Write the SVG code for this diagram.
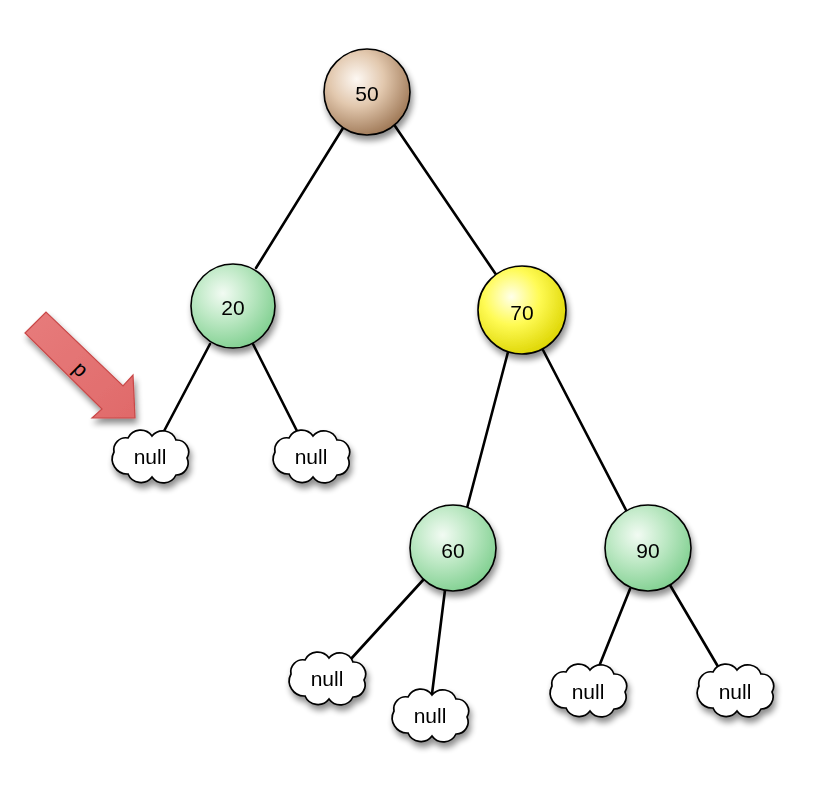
<svg xmlns="http://www.w3.org/2000/svg" xmlns:xlink="http://www.w3.org/1999/xlink" width="816" height="789" viewBox="0 0 816 789">
<style>
.edge{stroke:#000;stroke-width:2.6;fill:none;stroke-linecap:round}
.node{stroke:#000;stroke-width:1.6}
.lbl{font-family:"Liberation Sans",Arial,sans-serif;font-size:21px;fill:#000;text-anchor:middle;dominant-baseline:central}
.cloud{fill:#fff;stroke:#000;stroke-width:1.7}
</style>
<defs>
<radialGradient id="gBrown" cx="0.38" cy="0.35" r="0.7">
<stop offset="0" stop-color="#fdf8f3"/>
<stop offset="0.45" stop-color="#e2c8ae"/>
<stop offset="1" stop-color="#9c7553"/>
</radialGradient>
<radialGradient id="gGreen" cx="0.38" cy="0.35" r="0.7">
<stop offset="0" stop-color="#f2fbf3"/>
<stop offset="0.45" stop-color="#bfe9c6"/>
<stop offset="1" stop-color="#7fcf8f"/>
</radialGradient>
<radialGradient id="gYellow" cx="0.38" cy="0.35" r="0.7">
<stop offset="0" stop-color="#ffffea"/>
<stop offset="0.45" stop-color="#fffb55"/>
<stop offset="1" stop-color="#dcd400"/>
</radialGradient>
<linearGradient id="gArrow" x1="0" y1="0" x2="1" y2="1">
<stop offset="0" stop-color="#e77c7c"/>
<stop offset="1" stop-color="#e06a6a"/>
</linearGradient>
<filter id="shadow" x="-30%" y="-30%" width="170%" height="170%">
<feGaussianBlur in="SourceAlpha" stdDeviation="3"/>
<feOffset dx="2" dy="5" result="b"/>
<feComponentTransfer><feFuncA type="linear" slope="0.45"/></feComponentTransfer>
<feMerge><feMergeNode/><feMergeNode in="SourceGraphic"/></feMerge>
</filter>
<path id="cloudShape" class="cloud" d="M-36,-4 A12,12 0 0 1 -22,-18 A14,14 0 0 1 2,-20 A14,14 0 0 1 26,-16 A12,12 0 0 1 37,2 A12,12 0 0 1 26,19 A14,14 0 0 1 2,21 A14,14 0 0 1 -22,18 A15,15 0 0 1 -36,-4 Z"/>
</defs>
<rect width="816" height="789" fill="#fff"/>
<g id="connectors">
<line class="edge" x1="343" y1="128" x2="256" y2="268"/>
<line class="edge" x1="395" y1="126" x2="497" y2="276"/>
<line class="edge" x1="210" y1="344" x2="163" y2="433"/>
<line class="edge" x1="253" y1="344" x2="298" y2="433"/>
<line class="edge" x1="508" y1="352" x2="467" y2="508"/>
<line class="edge" x1="543" y1="350" x2="627" y2="512"/>
<line class="edge" x1="424" y1="579" x2="350" y2="660"/>
<line class="edge" x1="445" y1="590" x2="432" y2="694"/>
<line class="edge" x1="630" y1="589" x2="598" y2="669"/>
<line class="edge" x1="670" y1="585" x2="720" y2="670"/>
</g>
<g id="pointer-p">
<path d="M25,333 L46,312 L123,386 L133,375 L135,418 L92,418 L102,409 Z" fill="url(#gArrow)" stroke="#c84848" stroke-width="1.2" filter="url(#shadow)"/>
<text class="lbl" x="81" y="369" transform="rotate(44 81 369)">p</text>
</g>
<g id="n50" filter="url(#shadow)">
<circle class="node" cx="367" cy="92" r="43" fill="url(#gBrown)"/>
<text class="lbl" x="367" y="93">50</text>
</g>
<g id="n20" filter="url(#shadow)">
<circle class="node" cx="233" cy="306" r="42" fill="url(#gGreen)"/>
<text class="lbl" x="233" y="307">20</text>
</g>
<g id="n70" filter="url(#shadow)">
<circle class="node" cx="522" cy="310" r="44" fill="url(#gYellow)"/>
<text class="lbl" x="522" y="312">70</text>
</g>
<g id="n60" filter="url(#shadow)">
<circle class="node" cx="453" cy="548" r="43" fill="url(#gGreen)"/>
<text class="lbl" x="453" y="550">60</text>
</g>
<g id="n90" filter="url(#shadow)">
<circle class="node" cx="648" cy="548" r="43" fill="url(#gGreen)"/>
<text class="lbl" x="648" y="550">90</text>
</g>
<g id="null1" filter="url(#shadow)">
<use xlink:href="#cloudShape" href="#cloudShape" transform="translate(150,456)"/>
<text class="lbl" x="150" y="456">null</text>
</g>
<g id="null2" filter="url(#shadow)">
<use xlink:href="#cloudShape" href="#cloudShape" transform="translate(311,456)"/>
<text class="lbl" x="311" y="456">null</text>
</g>
<g id="null3" filter="url(#shadow)">
<use xlink:href="#cloudShape" href="#cloudShape" transform="translate(327,678)"/>
<text class="lbl" x="327" y="678">null</text>
</g>
<g id="null4" filter="url(#shadow)">
<use xlink:href="#cloudShape" href="#cloudShape" transform="translate(430,715)"/>
<text class="lbl" x="430" y="715">null</text>
</g>
<g id="null5" filter="url(#shadow)">
<use xlink:href="#cloudShape" href="#cloudShape" transform="translate(588,690)"/>
<text class="lbl" x="588" y="691">null</text>
</g>
<g id="null6" filter="url(#shadow)">
<use xlink:href="#cloudShape" href="#cloudShape" transform="translate(735,690)"/>
<text class="lbl" x="735" y="691">null</text>
</g>
</svg>
